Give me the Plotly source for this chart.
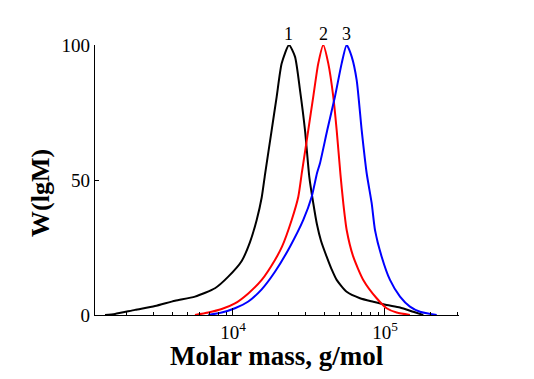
import numpy as np
import plotly.graph_objects as go

# Curve 1 (black)
m1 = [1439, 1674, 2266, 3068, 4153, 5623, 7612, 9313, 11410, 12940, 14320, 15450, 16240, 17970,
      19390, 20920, 23360, 25580, 27600, 29770, 31770, 33750, 35700, 37930, 41340, 44500, 48110,
      55980, 68470, 83750, 102600, 125600, 153600, 178600]
w1 = [0, 0.4, 1.9, 3.3, 5.3, 6.8, 9.9, 14.2, 20, 27, 35.2, 43.5, 52, 68.5,
      80.9, 93.2, 100, 95.7, 83.3, 68.5, 51.2, 41.4, 33.5, 27.5, 21.6, 17, 13,
      8.6, 6.2, 4.9, 3.7, 2.8, 1.2, 0]

# Curve 2 (red)
m2 = [5623, 6879, 8426, 10300, 12610, 15450, 18890, 21010, 24330, 26900, 28440, 31290, 33750,
      36410, 39270, 42360, 45700, 48110, 50960, 53180, 55980, 61850, 71970, 88190, 102600,
      119400, 146000]
w2 = [0, 0.9, 2.2, 4.3, 8, 13, 20.4, 25.3, 35.2, 43.8, 53, 68.5, 80.9,
      93.2, 100, 93.2, 80.9, 68.5, 52, 41.4, 31.5, 21.6, 13, 6.2, 2.5,
      0.9, 0]

# Curve 3 (blue)
m3 = [6879, 8426, 10300, 12610, 15450, 18890, 23710, 29010, 32950, 35700, 37360, 41730, 46900,
      51900, 55980, 60390, 65140, 70270, 75800, 81760, 85960, 95130, 107900, 125600, 146000,
      170000, 218900]
w3 = [0, 0.9, 2.5, 5, 9.5, 16, 25.3, 35.2, 43.8, 52.5, 56.2, 68.5, 80.9,
      93.2, 100, 95.7, 87, 68.5, 52.5, 41.4, 31.5, 21.6, 13, 6.8, 3.1,
      1.2, 0]

labels = ["1", "2", "3"]
colors = ["black", "red", "blue"]
x_ticks = [1e4, 1e5]
x_ticktext = ["10<sup>4</sup>", "10<sup>5</sup>"]
x_minor = [2000, 3000, 4000, 5000, 6000, 7000, 8000, 9000,
           20000, 30000, 40000, 50000, 60000, 70000, 80000, 90000, 200000, 300000]
y_ticks = [0, 50, 100]

FONT = "Liberation Serif"

fig = go.Figure()
series = [(m1, w1), (m2, w2), (m3, w3)]
for (m, w), c in zip(series, colors):
    fig.add_trace(go.Scatter(x=m, y=w, mode="lines",
                             line=dict(color=c, width=2, shape="spline", smoothing=0.6),
                             showlegend=False, hoverinfo="skip"))

for (m, w), lab in zip(series, labels):
    i = int(np.argmax(w))
    fig.add_annotation(x=np.log10(m[i]), y=w[i], text=lab, showarrow=False, xref="x", yref="y",
                       yanchor="bottom", yshift=-1, font=dict(family=FONT, size=18, color="black"))

fig.add_annotation(text="<b>W(lgM)</b>", textangle=-90, showarrow=False, xref="paper", yref="paper",
                   x=(40 - 95) / 364, y=(315 - 193) / 270, xanchor="center", yanchor="middle",
                   font=dict(family=FONT, size=26, color="black"))
fig.add_annotation(text="<b>Molar mass, g/mol</b>", showarrow=False, xref="paper", yref="paper",
                   x=0.5, y=(315 - 356) / 270, xanchor="center", yanchor="middle",
                   font=dict(family=FONT, size=27, color="black"))

fig.update_layout(
    width=526, height=371,
    margin=dict(l=87, r=75, t=37, b=64),
    paper_bgcolor="white", plot_bgcolor="white",
    font=dict(family=FONT, color="black"),
    xaxis=dict(type="log", range=[np.log10(1236), np.log10(307000)], showgrid=False, zeroline=False,
               showline=True, linecolor="black", linewidth=1.3,
               tickmode="array", tickvals=x_ticks, ticktext=x_ticktext,
               ticks="inside", ticklen=7, tickcolor="black", tickwidth=1,
               tickfont=dict(family=FONT, size=19, color="black"),
               minor=dict(tickmode="array", tickvals=x_minor, ticks="inside", ticklen=3,
                          tickcolor="black", tickwidth=1, showgrid=False)),
    yaxis=dict(range=[0, 100], showgrid=False, zeroline=False,
               showline=True, linecolor="black", linewidth=1.3,
               tickmode="array", tickvals=y_ticks,
               ticks="inside", ticklen=4, tickcolor="black", tickwidth=1,
               tickfont=dict(family=FONT, size=19, color="black")),
)

fig.write_html("out.html")
